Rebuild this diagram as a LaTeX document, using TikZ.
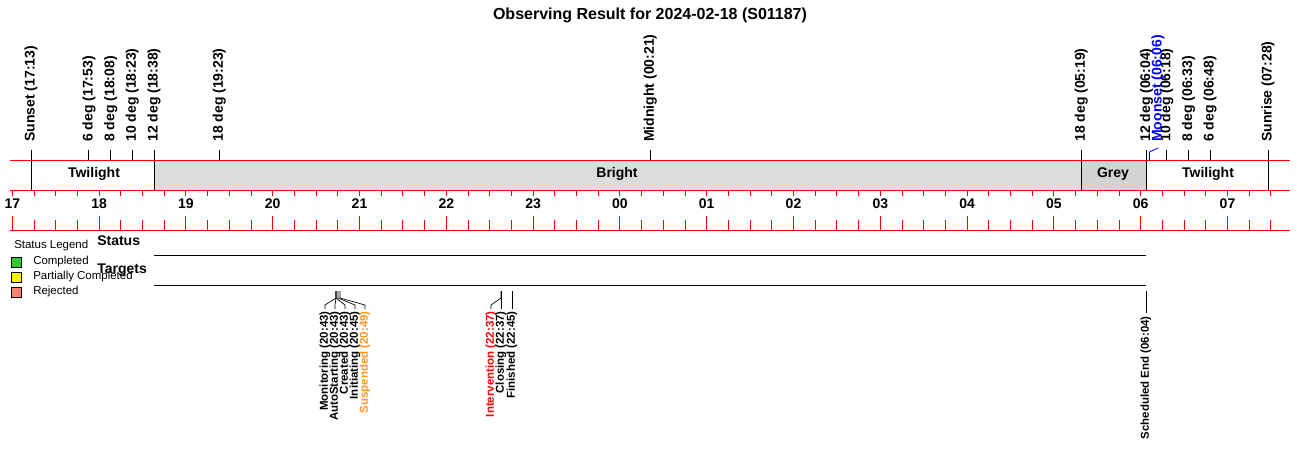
\documentclass[tikz,border=0pt]{standalone}
\usepackage{fontspec}
\setmainfont{Liberation Sans}
\usetikzlibrary{positioning}
\definecolor{brightgray}{RGB}{220,220,220}
\definecolor{greygray}{RGB}{211,211,211}
\definecolor{susporange}{RGB}{255,150,30}
\definecolor{donegreen}{RGB}{50,200,50}
\definecolor{rejsalmon}{RGB}{250,128,114}
\newcommand{\tpos}[1]{12.3+1.446667*(#1)}
\tikzset{
  redline/.style={red,line width=0.75pt},
  markline/.style={black,line width=0.75pt},
  toplab/.style={rotate=90,anchor=west,inner sep=0pt,font=\fontsize{10.5}{12}\selectfont\bfseries},
  evlab/.style={rotate=90,anchor=east,inner sep=0pt,font=\fontsize{8.6}{10}\selectfont\bfseries},
  bandlab/.style={inner sep=0pt,font=\fontsize{10.5}{12}\selectfont\bfseries},
  rowlab/.style={anchor=west,inner sep=0pt,font=\fontsize{10.5}{12}\selectfont\bfseries},
  legtext/.style={anchor=west,inner sep=0pt,font=\fontsize{8.6}{10}\selectfont},
  legbox/.style={draw=black,line width=0.75pt,minimum width=8pt,minimum height=7.5pt,inner sep=0pt}
}
\begin{document}
\begin{tikzpicture}[x=0.75pt,y=-0.75pt]
\useasboundingbox (0,0) rectangle (1300,460);
\node[font=\fontsize{12}{14}\selectfont\bfseries] (title) at (650,15) {Observing Result for 2024-02-18 (S01187)};
\fill[brightgray] (154,160) rectangle (1081,190);
\fill[greygray] (1081,160) rectangle (1146,190);
\node[bandlab] (twi1) at (94,174) {Twilight};
\node[bandlab] (bright) at (617,174) {Bright};
\node[bandlab] (grey) at (1113,174) {Grey};
\node[bandlab] (twi2) at (1208,174) {Twilight};
\foreach\m/\txt [count=\i] in {13/Sunset (17:13),53/6 deg (17:53),68/8 deg (18:08),83/10 deg (18:23),98/12 deg (18:38),143/18 deg (19:23),441/Midnight (00:21),739/18 deg (05:19),784/12 deg (06:04),798/10 deg (06:18),813/8 deg (06:33),828/6 deg (06:48),868/Sunrise (07:28)} {
  \node[toplab] (sun\i) at ({\tpos{\m}},142) {\txt};
  \draw[markline] (sun\i.west) ++(0,8) -- ++(0,10);
}
\foreach\m in {13,98,739,784,868} {
  \draw[markline] ({\tpos{\m}},160) -- ({\tpos{\m}},190);
}
\node[toplab,text=blue] (moonset) at (1158,142) {Moonset (06:06)};
\draw[blue,line width=0.6pt] ({\tpos{786}},160) -- ({\tpos{786}},152) -- ([yshift=-4.5pt]moonset.west);
\foreach\y in {160,190,230} {
  \draw[redline] (10,\y) -- (1290,\y);
}
\foreach\q in {0,...,58} {
  \draw[redline] ({12.3+21.7*\q},190) -- ++(0,6);
  \draw[redline] ({12.3+21.7*\q},230) -- ++(0,-10);
}
\foreach\h/\lab in {0/17,1/18,2/19,3/20,4/21,5/22,6/23,7/00,8/01,9/02,10/03,11/04,12/05,13/06,14/07} {
  \node[bandlab] (hr\h) at ({12.3+86.8*\h},204) {\lab};
  \draw[redline] ({12.3+86.8*\h},216) -- ++(0,4);
}
\node[legtext] (legtitle) at (14,246) {Status Legend};
\foreach\c/\txt/\y [count=\i] in {donegreen/Completed/262,yellow/Partially Completed/277,rejsalmon/Rejected/292} {
  \node[legbox,fill=\c] (box\i) at (16.5,\y) {};
  \node[legtext] (leg\i) at (33,\y) {\txt};
}
\node[rowlab] (status) at (97,241) {Status};
\node[rowlab] (targets) at (97,270) {Targets};
\draw[markline] (154,255) -- (1146,255);
\draw[markline] (154,285) -- (1146,285);
\coordinate (e43) at (336,291);
\coordinate (e45) at (338,291);
\coordinate (e49) at (340,291);
\coordinate (e2237) at (501,291);
\coordinate (e2245) at (512,291);
\coordinate (e0604) at (1146,291);
\node[evlab] (mon) at (325,311) {Monitoring (20:43)};
\node[evlab] (auto) at (335,311) {AutoStarting (20:43)};
\node[evlab] (created) at (345,311) {Created (20:43)};
\node[evlab] (init) at (355,311) {Initiating (20:45)};
\node[evlab,text=susporange] (susp) at (365,311) {Suspended (20:49)};
\foreach\e/\n in {e43/mon,e43/auto,e43/created,e45/init,e49/susp} {
  \draw[markline,line width=0.5pt] (\e) -- ++(0,7) -- ([yshift=4.5pt]\n.east) -- ([yshift=1.5pt]\n.east);
}
\node[evlab,text=red] (interv) at (491,311) {Intervention (22:37)};
\node[evlab] (closing) at (501,311) {Closing (22:37)};
\node[evlab] (finished) at (512,311) {Finished (22:45)};
\draw[markline,line width=0.5pt] (e2237) -- ++(0,7) -- ([yshift=4.5pt]interv.east) -- ([yshift=1.5pt]interv.east);
\draw[markline,line width=0.5pt] (e2237) -- ([yshift=1.5pt]closing.east);
\draw[markline,line width=0.5pt] (e2245) -- ([yshift=1.5pt]finished.east);
\node[evlab] (schedend) at (1146,316) {Scheduled End (06:04)};
\draw[markline] (e0604) -- ([yshift=2.5pt]schedend.east);
\end{tikzpicture}
\end{document}
